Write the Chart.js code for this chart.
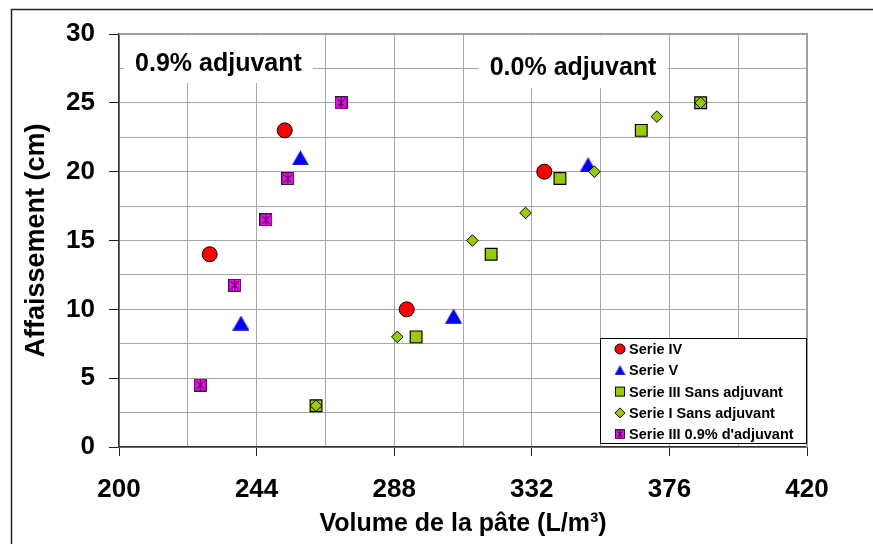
<!DOCTYPE html>
<html>
<head>
<meta charset="utf-8">
<script src="https://cdn.jsdelivr.net/npm/chart.js@4.4.1/dist/chart.umd.min.js"></script>
<style>
  html, body { margin: 0; padding: 0; background: #fff; }
  canvas { display: block; }
</style>
</head>
<body>
<canvas id="chart" width="873" height="544"></canvas>
<script>
// Affaissement (cm) vs Volume de la pâte (L/m3)
const serieIV_x = [229, 253, 292, 336];
const serieIV_y = [14, 23, 10, 20];
const serieV_x = [239, 258, 307, 350];
const serieV_y = [9, 21, 9.5, 20.5];
const serieIIIsans_x = [263, 295, 319, 341, 367, 386];
const serieIIIsans_y = [3, 8, 14, 19.5, 23, 25];
const serieIsans_x = [263, 289, 313, 330, 352, 372, 386];
const serieIsans_y = [3, 8, 15, 17, 20, 24, 25];
const serieIII09_x = [226, 237, 247, 254, 271];
const serieIII09_y = [4.5, 11.75, 16.5, 19.5, 25];

const seriesNames = [
  "Serie IV",
  "Serie V",
  "Serie III Sans adjuvant",
  "Serie I Sans adjuvant",
  "Serie III 0.9% d'adjuvant",
];
const xTicks = [200, 244, 288, 332, 376, 420];
const yTicks = [0, 5, 10, 15, 20, 25, 30];
const noteLeft = "0.9% adjuvant";
const noteRight = "0.0% adjuvant";

const FONT = "'Liberation Sans', Arial, sans-serif";
const RED = "#ff0000";
const BLUE = "#0000ff";
const GREEN = "#99cc00";
const MAGENTA = "#ff00ff";

function toPoints(xs, ys) {
  return xs.map((x, i) => ({ x: x, y: ys[i] }));
}

// custom markers (Excel-like): triangle centred on its box, square with asterisk
function triangleMarker(w, h) {
  const c = document.createElement("canvas");
  c.width = w;
  c.height = h;
  const g = c.getContext("2d");
  g.beginPath();
  g.moveTo(w / 2, 0.5);
  g.lineTo(w - 0.5, h - 0.5);
  g.lineTo(0.5, h - 0.5);
  g.closePath();
  g.fillStyle = BLUE;
  g.fill();
  g.strokeStyle = "#0000b0";
  g.lineWidth = 0.6;
  g.stroke();
  return c;
}

function starSquareMarker(s) {
  const c = document.createElement("canvas");
  c.width = s;
  c.height = s;
  const g = c.getContext("2d");
  g.fillStyle = MAGENTA;
  g.fillRect(0.5, 0.5, s - 1, s - 1);
  g.strokeStyle = "#000";
  g.lineWidth = 0.8;
  g.strokeRect(0.5, 0.5, s - 1, s - 1);
  g.lineWidth = 1;
  g.beginPath();
  g.moveTo(2.5, 2.5); g.lineTo(s - 2.5, s - 2.5);
  g.moveTo(s - 2.5, 2.5); g.lineTo(2.5, s - 2.5);
  g.moveTo(s / 2, 1.5); g.lineTo(s / 2, s - 1.5);
  g.stroke();
  return c;
}

const triImg = triangleMarker(17, 15);
const starImg = starSquareMarker(13);
const triLegend = triangleMarker(11, 10);
const starLegend = starSquareMarker(10);

// white frame around the whole picture
const framePlugin = {
  id: "frame",
  beforeDraw(chart) {
    const ctx = chart.ctx;
    ctx.save();
    ctx.fillStyle = "#fff";
    ctx.fillRect(0, 0, chart.width, chart.height);
    ctx.strokeStyle = "#222";
    ctx.lineWidth = 1.5;
    ctx.strokeRect(11.5, 9.5, 1000, 1000);
    ctx.restore();
  },
};

// plot border top/right + the two text boxes
const notesPlugin = {
  id: "notes",
  beforeDatasetsDraw(chart) {
    const { ctx, chartArea: a, scales } = chart;
    ctx.save();
    ctx.strokeStyle = "#a0a0a0";
    ctx.lineWidth = 2;
    ctx.beginPath();
    ctx.moveTo(a.left, a.top);
    ctx.lineTo(a.right, a.top);
    ctx.lineTo(a.right, a.bottom);
    ctx.stroke();

    ctx.font = "bold 25px " + FONT;
    ctx.textAlign = "center";
    ctx.textBaseline = "middle";
    const notes = [
      { text: noteLeft, x: scales.x.getPixelForValue(231.8), y: 64, bottom: 83 },
      { text: noteRight, x: scales.x.getPixelForValue(345.2), y: 68, bottom: 88 },
    ];
    notes.forEach((n) => {
      const w = ctx.measureText(n.text).width + 22;
      ctx.fillStyle = "#fff";
      ctx.fillRect(n.x - w / 2, a.top + 1.5, w, n.bottom - a.top - 1.5);
      ctx.fillStyle = "#000";
      ctx.fillText(n.text, n.x, n.y);
    });
    ctx.restore();
  },
};

// legend box in the bottom-right corner of the plot
const legendPlugin = {
  id: "boxLegend",
  afterDraw(chart) {
    const { ctx, chartArea: a } = chart;
    const bx = a.right - 207, by = a.bottom - 109, bw = 207, bh = 106;
    ctx.save();
    ctx.fillStyle = "#fff";
    ctx.fillRect(bx, by, bw, bh);
    ctx.strokeStyle = "#000";
    ctx.lineWidth = 1;
    ctx.strokeRect(bx + 0.5, by + 0.5, bw - 1, bh - 1);

    ctx.font = "bold 14.5px " + FONT;
    ctx.textAlign = "left";
    ctx.textBaseline = "middle";
    const mx = bx + 20;
    seriesNames.forEach((name, i) => {
      const y = by + 11 + i * 21.3;
      ctx.strokeStyle = "#000";
      ctx.lineWidth = 1;
      if (i === 0) {
        ctx.beginPath();
        ctx.arc(mx, y, 5, 0, Math.PI * 2);
        ctx.fillStyle = RED;
        ctx.fill();
        ctx.stroke();
      } else if (i === 1) {
        ctx.drawImage(triLegend, mx - 5.5, y - 5);
      } else if (i === 2) {
        ctx.fillStyle = GREEN;
        ctx.fillRect(mx - 4.5, y - 4.5, 9, 9);
        ctx.strokeRect(mx - 4.5, y - 4.5, 9, 9);
      } else if (i === 3) {
        ctx.beginPath();
        ctx.moveTo(mx - 5, y);
        ctx.lineTo(mx, y - 5);
        ctx.lineTo(mx + 5, y);
        ctx.lineTo(mx, y + 5);
        ctx.closePath();
        ctx.fillStyle = GREEN;
        ctx.fill();
        ctx.stroke();
      } else {
        ctx.drawImage(starLegend, mx - 5, y - 5);
      }
      ctx.fillStyle = "#000";
      ctx.fillText(name, bx + 29, y + 1);
    });
    ctx.restore();
  },
};

new Chart(document.getElementById("chart"), {
  type: "scatter",
  data: {
    datasets: [
      {
        label: seriesNames[0],
        data: toPoints(serieIV_x, serieIV_y),
        pointStyle: "circle",
        pointRadius: 7.5,
        backgroundColor: RED,
        borderColor: "#000",
        borderWidth: 1,
        order: 5,
      },
      {
        label: seriesNames[1],
        data: toPoints(serieV_x, serieV_y),
        pointStyle: triImg,
        backgroundColor: BLUE,
        borderColor: BLUE,
        order: 4,
      },
      {
        label: seriesNames[2],
        data: toPoints(serieIIIsans_x, serieIIIsans_y),
        pointStyle: "rect",
        pointRadius: 8.3,
        backgroundColor: GREEN,
        borderColor: "#000",
        borderWidth: 1.2,
        order: 3,
      },
      {
        label: seriesNames[3],
        data: toPoints(serieIsans_x, serieIsans_y),
        pointStyle: "rectRot",
        pointRadius: 5.8,
        backgroundColor: GREEN,
        borderColor: "#000",
        borderWidth: 1,
        order: 2,
      },
      {
        label: seriesNames[4],
        data: toPoints(serieIII09_x, serieIII09_y),
        pointStyle: starImg,
        backgroundColor: MAGENTA,
        borderColor: "#000",
        order: 1,
      },
    ],
  },
  options: {
    responsive: false,
    animation: false,
    devicePixelRatio: 1,
    layout: { padding: { top: 34, right: 66, left: 0, bottom: 0 } },
    plugins: {
      legend: { display: false },
      tooltip: { enabled: false },
    },
    scales: {
      x: {
        type: "linear",
        min: 200,
        max: 420,
        afterFit: (s) => { s.height = 97; },
        ticks: {
          stepSize: 22,
          autoSkip: false,
          maxRotation: 0,
          padding: 18,
          color: "#000",
          font: { family: FONT, size: 26, weight: "bold" },
          callback: (v) => (xTicks.includes(Math.round(v)) ? Math.round(v) : ""),
        },
        grid: {
          color: "#a6a6a6",
          lineWidth: 1,
          tickLength: 9,
          tickColor: (c) => (c.tick && xTicks.includes(Math.round(c.tick.value)) ? "#222" : "rgba(0,0,0,0)"),
        },
        border: { color: "#333", width: 1.5 },
        title: {
          display: true,
          text: "Volume de la pâte (L/m³)",
          color: "#000",
          font: { family: FONT, size: 25, weight: "bold" },
          padding: { top: 0, bottom: 5 },
        },
      },
      y: {
        type: "linear",
        min: 0,
        max: 30,
        afterFit: (s) => { s.width = 119; },
        ticks: {
          stepSize: 2.5,
          autoSkip: false,
          padding: 14,
          color: "#000",
          font: { family: FONT, size: 26, weight: "bold" },
          callback: (v) => (yTicks.includes(v) ? v : ""),
        },
        grid: {
          color: "#a6a6a6",
          lineWidth: 1,
          tickLength: 10,
          tickColor: (c) => (c.tick && yTicks.includes(c.tick.value) ? "#222" : "rgba(0,0,0,0)"),
        },
        border: { color: "#333", width: 1.5 },
        title: {
          display: true,
          text: "Affaissement (cm)",
          color: "#000",
          font: { family: FONT, size: 27, weight: "bold" },
          padding: { top: 20, bottom: 0 },
        },
      },
    },
  },
  plugins: [framePlugin, notesPlugin, legendPlugin],
});
</script>
</body>
</html>
